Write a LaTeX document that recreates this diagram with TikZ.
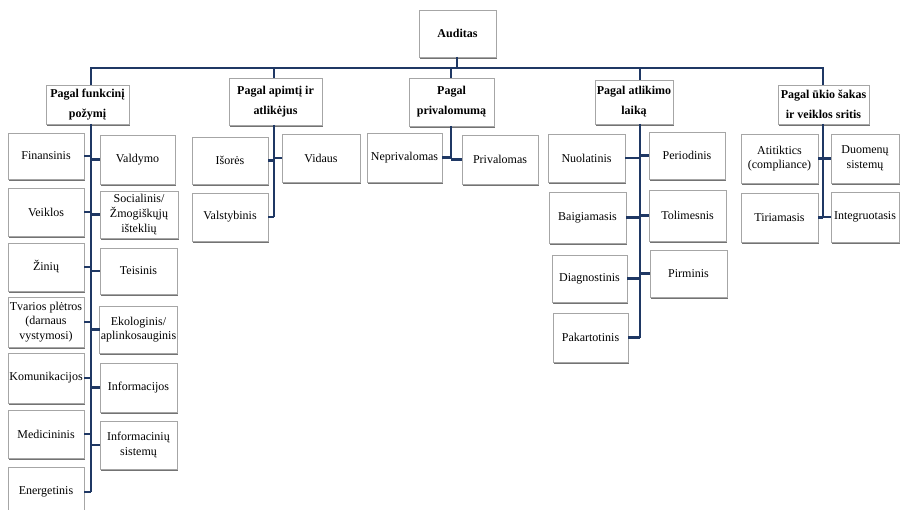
\documentclass[tikz,border=0pt]{standalone}
\usepackage{fontspec}
\setmainfont{Liberation Serif}
\usetikzlibrary{shadows}
\definecolor{navy}{HTML}{1F3864}
\definecolor{bordergray}{HTML}{A6A6A6}
\tikzset{
  box/.style={draw=bordergray, line width=0.6pt, fill=white, inner sep=1pt, outer sep=0pt,
    align=center, font=\fontsize{9}{11}\selectfont,
    drop shadow={shadow xshift=0.5pt, shadow yshift=-1.3pt, fill=black!55, opacity=1}},
  head/.style={box, font=\fontsize{9}{15}\selectfont\bfseries},
  conn/.style={draw=navy, line width=2pt}
}
\newcommand\bx[7]{\node[#1, minimum width={(#5-#3)*0.75pt}, minimum height={(#6-#4)*0.75pt}] (#2) at ({(#3+#5)/2},{(#4+#6)/2}) {#7};}
\begin{document}
\begin{tikzpicture}[x=0.75pt,y=-0.75pt]
\useasboundingbox (0,0) rectangle (901,510);
% top
\bx{head}{aud}{419}{10}{496}{57}{Auditas}
% headers
\bx{head}{fn}{46}{85}{129}{124}{Pagal funkcinį\\požymį}
\bx{head}{apm}{229}{78}{322}{125}{Pagal apimtį ir\\atlikėjus}
\bx{head}{prv}{409}{78}{494}{126}{Pagal\\privalomumą}
\bx{head}{atl}{595}{80}{673}{124}{Pagal atlikimo\\laiką}
\bx{head}{uk}{778}{85}{869}{124}{Pagal ūkio šakas\\ir veiklos sritis}
% column 1
\bx{box}{fin}{8}{133}{84}{179}{Finansinis}
\bx{box}{val}{100}{135}{175}{184}{Valdymo}
\bx{box}{vei}{8}{188}{84}{236}{Veiklos}
\bx{box}{soc}{100}{191}{178}{238}{Socialinis/\\Žmogiškųjų\\išteklių}
\bx{box}{zin}{8}{243}{84}{291}{Žinių}
\bx{box}{tei}{100}{248}{177}{294}{Teisinis}
\bx{box}{tva}{8}{297}{84}{347}{Tvarios plėtros\\(darnaus\\vystymosi)}
\bx{box}{eko}{100}{306}{177}{353}{Ekologinis/\\aplinkosauginis}
\bx{box}{kom}{8}{353}{84}{403}{Komunikacijos}
\bx{box}{inf}{100}{363}{177}{412}{Informacijos}
\bx{box}{med}{8}{410}{84}{458}{Medicininis}
\bx{box}{ins}{100}{421}{177}{469}{Informacinių\\sistemų}
\bx{box}{ene}{8}{467}{84}{517}{Energetinis}
% column 2
\bx{box}{iso}{192}{137}{268}{184}{Išorės}
\bx{box}{vid}{282}{134}{360}{182}{Vidaus}
\bx{box}{vls}{192}{193}{268}{241}{Valstybinis}
% column 3
\bx{box}{nep}{367}{133}{442}{182}{Neprivalomas}
\bx{box}{pri}{462}{135}{538}{184}{Privalomas}
% column 4
\bx{box}{nuo}{548}{134}{625}{182}{Nuolatinis}
\bx{box}{per}{649}{132}{725}{179}{Periodinis}
\bx{box}{bai}{549}{192}{626}{243}{Baigiamasis}
\bx{box}{tol}{649}{190}{726}{241}{Tolimesnis}
\bx{box}{dia}{552}{255}{627}{302}{Diagnostinis}
\bx{box}{pir}{650}{250}{727}{297}{Pirminis}
\bx{box}{pak}{553}{313}{628}{362}{Pakartotinis}
% column 5
\bx{box}{ati}{741}{134}{818}{183}{Atitiktics\\(compliance)}
\bx{box}{duo}{831}{134}{899}{183}{Duomenų\\sistemų}
\bx{box}{tir}{741}{193}{818}{242}{Tiriamasis}
\bx{box}{int}{831}{192}{899}{242}{Integruotasis}
% bus coordinates
\coordinate (t1) at (91,68);
\coordinate (t2) at (274,68);
\coordinate (t3) at (451,68);
\coordinate (t4) at (640,68);
\coordinate (t5) at (823,68);
\coordinate (ta) at (457,68);
% bus
\draw[conn] (t1 |- fn.north) -- (t1) -- (t5) -- (t5 |- uk.north);
\draw[conn] (aud.south -| ta) -- (ta);
\draw[conn] (t2) -- (t2 |- apm.north);
\draw[conn] (t3) -- (t3 |- prv.north);
\draw[conn] (t4) -- (t4 |- atl.north);
% column 1 trunk
\draw[conn] (t1 |- fn.south) -- (t1 |- ene.east);
\foreach \n in {fin,vei,zin,tva,kom,med,ene} \draw[conn] (\n.east) -- (t1 |- \n.east);
\foreach \n in {val,soc,tei,eko,inf,ins} \draw[conn] (t1 |- \n.west) -- (\n.west);
% column 2
\draw[conn] (t2 |- apm.south) -- (t2 |- vls.east);
\draw[conn] (iso.east) -- (t2 |- iso.east);
\draw[conn] (vls.east) -- (t2 |- vls.east);
\draw[conn] (t2 |- vid.west) -- (vid.west);
% column 3
\draw[conn] (t3 |- prv.south) -- (t3 |- nep.east);
\draw[conn] (nep.east) -- (t3 |- nep.east);
\draw[conn] (t3 |- pri.west) -- (pri.west);
\draw[conn] (t3 |- nep.east) -- (t3 |- pri.west);
% column 4
\draw[conn] (t4 |- atl.south) -- (t4 |- pak.east);
\foreach \n in {nuo,bai,dia,pak} \draw[conn] (\n.east) -- (t4 |- \n.east);
\foreach \n in {per,tol,pir} \draw[conn] (t4 |- \n.west) -- (\n.west);
% column 5
\draw[conn] (t5 |- uk.south) -- (t5 |- tir.east);
\foreach \n in {ati,tir} \draw[conn] (\n.east) -- (t5 |- \n.east);
\foreach \n in {duo,int} \draw[conn] (t5 |- \n.west) -- (\n.west);
\end{tikzpicture}
\end{document}
